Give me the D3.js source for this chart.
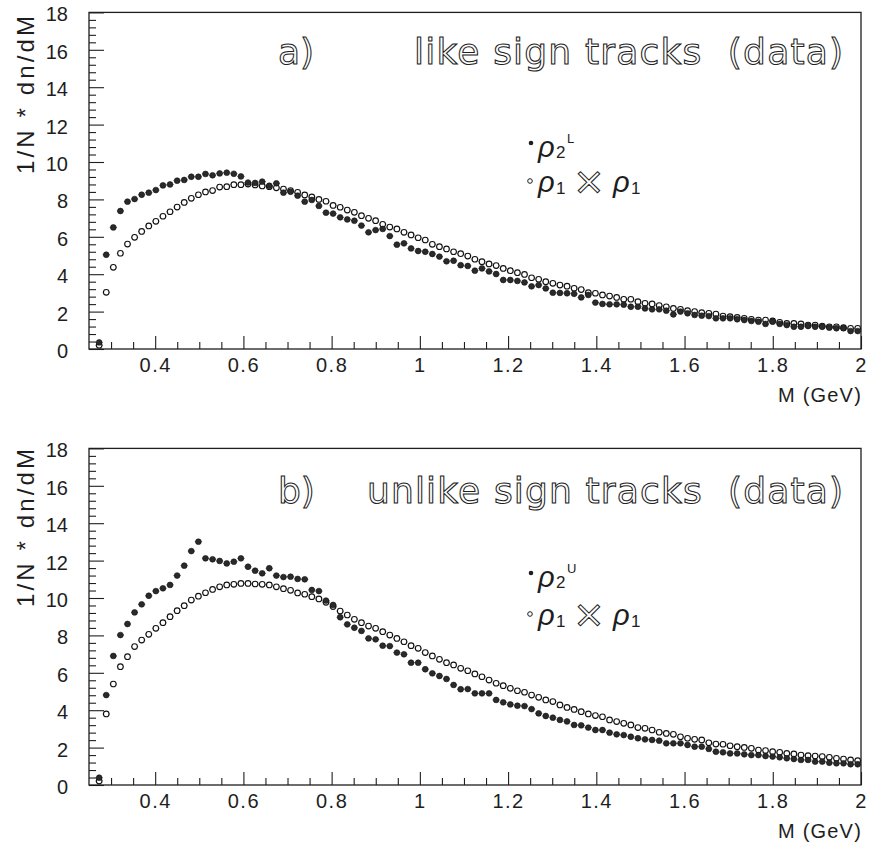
<!DOCTYPE html>
<html>
<head>
<meta charset="utf-8">
<script src="https://cdn.jsdelivr.net/npm/d3@7/dist/d3.min.js"></script>
<style>
  body { margin: 0; background: #fff; }
  svg { display: block; }
  .title { white-space: pre; }
</style>
</head>
<body>
<svg id="chart" width="876" height="858"></svg>
<script>
// Histogram binning in invariant mass M (GeV)
const binFirst = 0.273;
const binWidth = 0.01607;
const nBins = 108;
const massBins = d3.range(nBins).map(i => binFirst + i * binWidth);

// a) like-sign pairs: two-particle density rho2^L
const likeRho2 = [
  0.35, 5.04, 6.5, 7.38, 7.88, 8.02, 8.25, 8.36, 8.5, 8.75, 8.8, 9.0, 9.04, 9.21, 9.21, 9.36,
  9.29, 9.39, 9.43, 9.37, 9.23, 8.9, 8.88, 8.95, 8.73, 8.86, 8.36, 8.41, 8.2,
  7.88, 7.97, 7.65, 7.29, 7.24, 7.04, 6.93, 6.86, 6.6, 6.24, 6.36, 6.42, 6.04, 5.58, 5.65, 5.38,
  5.24, 5.2, 5.08, 4.94, 4.69, 4.72, 4.48, 4.44, 4.19, 4.31, 4.15, 4.01, 3.69, 3.69, 3.64, 3.56,
  3.35, 3.42, 3.24, 3.01, 3.0, 2.98, 2.95, 2.76,
  2.89, 2.48, 2.41, 2.39, 2.39, 2.37, 2.26, 2.26, 2.17, 2.12, 2.12, 2.05, 1.85, 2.0, 1.91, 1.82,
  1.78, 1.76, 1.64, 1.64, 1.64, 1.59, 1.55, 1.5, 1.46, 1.34, 1.46, 1.34, 1.28, 1.19, 1.19, 1.23,
  1.19, 1.19, 1.14, 1.11, 1.11, 0.96, 0.96
];

// a) like-sign pairs: product of one-particle densities rho1 x rho1
const likeRho1Rho1 = [
  0.2, 3.03, 4.37, 5.12, 5.61, 5.97, 6.29, 6.58, 6.83, 7.1, 7.34, 7.59, 7.84, 8.06, 8.25, 8.4,
  8.47, 8.66, 8.68, 8.79, 8.79, 8.82, 8.77, 8.72, 8.68, 8.62,
  8.55, 8.47, 8.38, 8.24, 8.13, 8.0, 7.9, 7.68, 7.58, 7.43, 7.31, 7.13, 6.99, 6.86, 6.67, 6.52,
  6.42, 6.24, 6.1, 5.95, 5.83, 5.6, 5.47, 5.35, 5.2, 5.1, 4.97, 4.8, 4.67, 4.55, 4.46, 4.31,
  4.19, 4.08, 3.99, 3.81, 3.73, 3.6, 3.51, 3.42, 3.36, 3.25, 3.18,
  3.01, 2.98, 2.89, 2.83, 2.76, 2.66, 2.66, 2.53, 2.44, 2.41, 2.32, 2.26, 2.17, 2.12, 2.05, 2.0,
  1.94, 1.91, 1.87, 1.76, 1.73, 1.69, 1.64, 1.59, 1.55, 1.55, 1.5, 1.43, 1.37, 1.37, 1.34, 1.28,
  1.28, 1.23, 1.19, 1.19, 1.14, 1.11, 1.11
];

// b) unlike-sign pairs: two-particle density rho2^U
const unlikeRho2 = [
  0.39, 4.81, 6.9, 8.02, 8.61, 9.23, 9.66, 10.12, 10.37, 10.52, 10.7, 11.2, 11.73, 12.51, 13.01,
  12.12, 12.07, 11.98, 11.85, 11.94, 12.12, 11.67, 11.46, 11.32, 11.59, 11.2,
  11.12, 11.14, 11.02, 11.0, 10.43, 10.37, 9.86, 9.63, 8.97, 8.59, 8.41, 8.24, 7.84, 7.79, 7.45,
  7.43, 7.08, 6.99, 6.54, 6.54, 6.19, 5.97, 5.83, 5.67, 5.35, 5.12, 5.13, 4.9, 4.9, 4.9, 4.55,
  4.42, 4.31, 4.24, 4.22, 4.06, 3.83, 3.69, 3.6, 3.48, 3.4, 3.21, 3.19,
  3.07, 2.94, 2.94, 2.8, 2.71, 2.67, 2.58, 2.5, 2.44, 2.41, 2.37, 2.23, 2.23, 2.23, 2.14, 2.05,
  2.05, 1.93, 1.78, 1.75, 1.69, 1.69, 1.64, 1.6, 1.6, 1.55, 1.52, 1.48, 1.43, 1.39, 1.34, 1.34,
  1.25, 1.25, 1.19, 1.16, 1.16, 1.11, 1.11
];

// b) unlike-sign pairs: product of one-particle densities rho1 x rho1
const unlikeRho1Rho1 = [
  0.21, 3.8, 5.4, 6.33, 6.86, 7.4, 7.75, 8.06, 8.38, 8.68, 9.0, 9.32, 9.59, 9.89, 10.1, 10.28,
  10.46, 10.6, 10.7, 10.73, 10.78, 10.78, 10.75, 10.73, 10.7, 10.6,
  10.5, 10.41, 10.27, 10.2, 10.07, 9.95, 9.77, 9.54, 9.3, 9.09, 8.86, 8.68, 8.5, 8.38, 8.2, 8.02,
  7.84, 7.66, 7.45, 7.31, 7.08, 6.9, 6.72, 6.54, 6.42, 6.24, 6.11, 5.94, 5.79, 5.61, 5.44, 5.31,
  5.17, 5.04, 4.96, 4.81, 4.69, 4.55, 4.46, 4.28, 4.15, 4.04, 3.92,
  3.8, 3.71, 3.65, 3.48, 3.39, 3.3, 3.21, 3.07, 3.03, 2.94, 2.82, 2.76, 2.71, 2.58, 2.5, 2.44,
  2.41, 2.26, 2.19, 2.18, 2.1, 2.05, 2.01, 1.96, 1.87, 1.84, 1.78, 1.75, 1.69, 1.66, 1.6, 1.57,
  1.55, 1.52, 1.48, 1.43, 1.39, 1.34, 1.3
];

// Axis ticks and labels
const xMajorTicks = [0.4, 0.6, 0.8, 1.0, 1.2, 1.4, 1.6, 1.8, 2.0];
const xTickLabels = ["0.4", "0.6", "0.8", "1", "1.2", "1.4", "1.6", "1.8", "2"];
const xMinorTicks = [0.3, 0.35, 0.45, 0.5, 0.55, 0.65, 0.7, 0.75, 0.85, 0.9, 0.95, 1.05, 1.1, 1.15,
  1.25, 1.3, 1.35, 1.45, 1.5, 1.55, 1.65, 1.7, 1.75, 1.85, 1.9, 1.95];
const yMajorTicks = [0, 2, 4, 6, 8, 10, 12, 14, 16, 18];
const yMinorTicks = d3.range(0, 46).filter(i => i % 5 !== 0).map(i => i * 0.4);

const xTitle = "M (GeV)";
const yTitle = "1/N * dn/dM";

const panels = [
  {
    yBase: 349, filled: likeRho2, open: likeRho1Rho1,
    tag: "a)", title: "like sign tracks  (data)", tagX: 278, titleX: 414, titleW: 429, titleY: 64,
    sup: "L", leg1: 157, leg2: 192, yTitleY: 95
  },
  {
    yBase: 785, filled: unlikeRho2, open: unlikeRho1Rho1,
    tag: "b)", title: "unlike sign tracks  (data)", tagX: 278, titleX: 367, titleW: 476, titleY: 503,
    sup: "U", leg1: 587, leg2: 625, yTitleY: 528
  }
];

const svg = d3.select("#chart");
const FONT = "'Liberation Sans', Arial, Helvetica, sans-serif";
const INK = "#1e1e1e";

const x = d3.scaleLinear().domain([0.25, 2]).range([89, 861]);

function styleAxis(g) {
  g.select(".domain").remove();
  g.selectAll(".tick line").attr("stroke", INK).attr("stroke-width", 1.1);
  g.selectAll(".tick text")
    .attr("font-family", FONT).attr("font-size", 20)
    .attr("fill", INK).attr("letter-spacing", "1.5px");
}

// outlined lettering used for panel titles and the product sign
const outlineStyle = (t, size) => t
  .attr("font-family", "'DejaVu Sans', 'Noto Sans', sans-serif")
  .attr("font-size", size).attr("fill", "#fff")
  .attr("stroke", "#222").attr("stroke-width", 1.05);

panels.forEach(p => {
  const y = d3.scaleLinear().domain([0, 18]).range([p.yBase, p.yBase - 18 * 18.7]);
  const g = svg.append("g");
  const [x0, x1] = x.range();
  const yTop = y(18);

  // x axis: minor and major ticks pointing into the frame
  g.append("g").attr("transform", `translate(0,${p.yBase})`)
    .call(d3.axisBottom(x).tickValues(xMinorTicks).tickSize(-7).tickFormat(""))
    .call(styleAxis);
  g.append("g").attr("transform", `translate(0,${p.yBase})`)
    .call(d3.axisBottom(x).tickValues(xMajorTicks).tickSize(-13).tickPadding(9)
      .tickFormat((d, i) => xTickLabels[i]))
    .call(styleAxis);

  // y axis
  g.append("g").attr("transform", `translate(${x0},0)`)
    .call(d3.axisLeft(y).tickValues(yMinorTicks).tickSize(-7).tickFormat(""))
    .call(styleAxis);
  g.append("g").attr("transform", `translate(${x0},0)`)
    .call(d3.axisLeft(y).tickValues(yMajorTicks).tickSize(-15).tickPadding(21)
      .tickFormat(d3.format("d")))
    .call(styleAxis)
    .call(a => a.selectAll(".tick text").attr("letter-spacing", null).attr("dy", "0.42em"));

  // frame
  g.append("rect")
    .attr("x", x0).attr("y", yTop)
    .attr("width", x1 - x0).attr("height", p.yBase - yTop)
    .attr("fill", "none").attr("stroke", INK).attr("stroke-width", 1.3);

  // bin-width bars
  const drawBars = (vals) => g.append("g").selectAll("line")
    .data(vals).join("line")
    .attr("x1", (d, i) => x(massBins[i] - binWidth / 2))
    .attr("x2", (d, i) => x(massBins[i] + binWidth / 2))
    .attr("y1", d => y(d)).attr("y2", d => y(d))
    .attr("stroke", "#444").attr("stroke-width", 0.8);
  drawBars(p.open);
  drawBars(p.filled);

  // rho1 x rho1 : open circles
  g.append("g").selectAll("circle")
    .data(p.open).join("circle")
    .attr("cx", (d, i) => x(massBins[i])).attr("cy", d => y(d))
    .attr("r", 2.8).attr("fill", "#fff").attr("stroke", "#111").attr("stroke-width", 1.1);

  // rho2 : filled circles
  g.append("g").selectAll("circle")
    .data(p.filled).join("circle")
    .attr("cx", (d, i) => x(massBins[i])).attr("cy", d => y(d))
    .attr("r", 2.9).attr("fill", "#2a2a2a").attr("stroke", "#111").attr("stroke-width", 0.6);

  // panel title
  g.append("text").attr("class", "title").attr("x", p.tagX).attr("y", p.titleY).text(p.tag)
    .call(outlineStyle, 36);
  g.append("text").attr("class", "title").attr("x", p.titleX).attr("y", p.titleY)
    .attr("textLength", p.titleW).text(p.title)
    .call(outlineStyle, 36);

  // legend
  const leg = g.append("g").attr("font-family", FONT).attr("fill", INK);
  leg.append("circle").attr("cx", 531).attr("cy", p.leg1 - 14).attr("r", 2.3).attr("fill", INK);
  leg.append("text").attr("x", 538).attr("y", p.leg1).attr("font-size", 29)
    .attr("font-style", "italic").text("ρ");
  leg.append("text").attr("x", 556).attr("y", p.leg1 + 1).attr("font-size", 17).text("2");
  leg.append("text").attr("x", 567).attr("y", p.leg1 - 14).attr("font-size", 13).text(p.sup);

  leg.append("circle").attr("cx", 530).attr("cy", p.leg2 - 11).attr("r", 2.3)
    .attr("fill", "#fff").attr("stroke", INK).attr("stroke-width", 1);
  leg.append("text").attr("x", 538).attr("y", p.leg2).attr("font-size", 29)
    .attr("font-style", "italic").text("ρ");
  leg.append("text").attr("x", 556).attr("y", p.leg2 + 2).attr("font-size", 17).text("1");
  leg.append("text").attr("x", 589).attr("y", p.leg2 + 2)
    .attr("text-anchor", "middle").text("×")
    .call(outlineStyle, 38);
  leg.append("text").attr("x", 613).attr("y", p.leg2).attr("font-size", 29)
    .attr("font-style", "italic").text("ρ");
  leg.append("text").attr("x", 631).attr("y", p.leg2 + 2).attr("font-size", 17).text("1");

  // axis titles
  g.append("text")
    .attr("transform", `translate(34,${p.yTitleY}) rotate(-90)`)
    .attr("text-anchor", "middle").attr("font-family", FONT)
    .attr("font-size", 24).attr("fill", INK)
    .attr("textLength", 158).text(yTitle);
  g.append("text")
    .attr("x", 862).attr("y", p.yBase + 53)
    .attr("text-anchor", "end").attr("font-family", FONT)
    .attr("font-size", 20).attr("fill", INK)
    .attr("letter-spacing", "1.2px").text(xTitle);
});
</script>
</body>
</html>
